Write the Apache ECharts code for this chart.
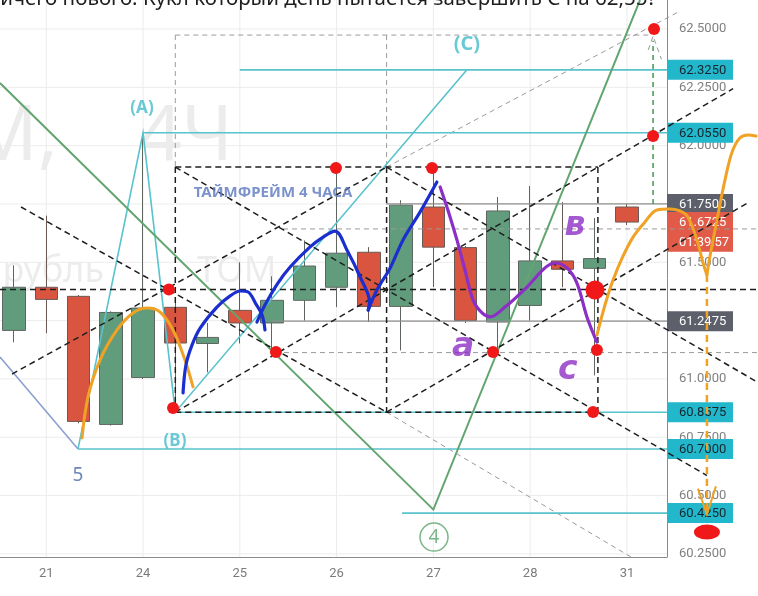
<!DOCTYPE html>
<html><head><meta charset="utf-8">
<script src="https://cdn.jsdelivr.net/npm/echarts@6/dist/echarts.min.js"></script>
<style>html,body{margin:0;padding:0;background:#fff;overflow:hidden}#c{width:758px;height:596px}</style>
</head><body><div id="c"></div>
<script>
// ---------- data ----------
const dayLabels = ['21','24','25','26','27','28','31'];
const dayStart  = [1,4,7,10,13,16,19];
const priceTicks = [60.25,60.5,60.75,61.0,61.25,61.5,61.75,62.0,62.25,62.5];

const candleIdx = [0,1,2,3,4,5,6,7,8,9,10,11,12,13,14,15,16,17,18,19];
const opens  = [61.208,61.393,61.354,60.805,61.006,61.307,61.152,61.294,61.240,61.337,61.393,61.543,61.311,61.737,61.563,61.244,61.315,61.506,61.474,61.737];
const closes = [61.393,61.341,60.818,61.285,61.304,61.154,61.178,61.240,61.337,61.484,61.539,61.311,61.745,61.565,61.251,61.720,61.506,61.470,61.516,61.6725];
const lows   = [61.157,61.196,60.810,60.800,61.000,60.8575,61.028,61.152,61.120,61.250,61.308,61.244,61.122,61.394,61.240,61.114,61.250,61.393,61.015,61.660];
const highs  = [61.487,61.700,61.360,61.290,62.055,61.330,61.240,61.500,61.440,61.594,61.930,61.565,61.766,61.908,61.570,61.780,61.827,61.758,61.690,61.750];

const tagPrices = [62.325,62.055,61.75,61.6725,61.588,61.2475,60.8575,60.70,60.425];
const tagTexts  = ['62.3250','62.0550','61.7500','61.6725','01:39:57','61.2475','60.8575','60.7000','60.4250'];
const tagKinds  = ['cyan','cyan','dark','red','red','dark','cyan','cyan','cyan'];

// box (x = candle index, y = price)
const boxL = 5, boxM = 11.55, boxR = 18.1;
const boxTop = 61.908, boxMid = 61.383, boxBot = 60.8575;

const blackDashed = [
  [[boxL,boxTop],[boxR,boxTop]],
  [[boxL,boxBot],[boxR,boxBot]],
  [[boxL,boxTop],[boxL,boxBot]],
  [[boxM,boxTop],[boxM,boxBot]],
  [[boxR,boxTop],[boxR,boxBot]],
  [[-0.434,boxMid],[23.063,boxMid]],
  [[boxL,boxTop],[21.48,60.586]],
  [[0.217,61.737],[boxM,boxBot]],
  [[-0.062,61.021],[boxM,boxTop]],
  [[boxL,boxBot],[22.29,62.244]],
  [[boxM,boxTop],[23.063,60.985]],
  [[boxM,boxBot],[22.72,61.753]]
];
const greyDashed = [
  [[5,62.474],[19.72,62.474]],
  [[5,62.474],[5,61.908]],
  [[11.55,62.474],[11.55,61.908]],
  [[8.34,61.643],[23.063,61.643]],
  [[8.09,61.113],[23.063,61.113]],
  [[11.55,60.8575],[20.955,60.087]],
  [[11.55,61.908],[20.55,62.57]],
  [[19.66,62.41],[19.81,62.47],[20.07,62.37]]
];
const greySolid = [
  [[11.53,61.75],[20.242,61.75]],
  [[8.0,61.2475],[20.242,61.2475]]
];
const cyanLines = [
  [[1.984,60.70],[4.0,62.055],[5.0,60.8575],[14.04,62.325]],
  [[7.0,62.325],[20.242,62.325]],
  [[4.0,62.055],[20.242,62.055]],
  [[5.0,60.8575],[20.242,60.8575]],
  [[1.984,60.70],[20.242,60.70]],
  [[12.03,60.425],[20.242,60.425]]
];
const slateLines = [[[-0.434,61.094],[1.984,60.70]]];
const greenLines = [[[-0.434,62.2685],[13.0,60.44],[19.405,62.624]]];
const greenDashed = [[[19.81,61.75],[19.81,62.45]]];
const orangeDashed = [[[21.48,61.446],[21.48,60.43]]];
const orangeArrow = [[[21.2,60.53],[21.48,60.42],[21.76,60.54]]];

const orangeLeft = [[2.108,60.747],[2.294,60.923],[2.666,61.081],[3.193,61.210],[3.689,61.283],[4.123,61.304],[4.526,61.287],[4.929,61.210],[5.30,61.081],[5.549,60.966]];
const orangeRightA = [[18.07,61.188],[18.32,61.317],[18.57,61.424],[18.85,61.518],[19.19,61.608],[19.56,61.673],[19.93,61.724],[20.33,61.728],[20.64,61.72],[20.89,61.694],[21.17,61.596],[21.36,61.497],[21.48,61.446]];
const orangeRightB = [[21.48,61.446],[21.57,61.523],[21.79,61.681],[22.04,61.853],[22.26,61.973],[22.5,62.033],[22.75,62.046],[23.0,62.041]];
const blue1 = [[5.24,60.940],[5.33,61.060],[5.52,61.146],[5.77,61.218],[6.29,61.308],[6.70,61.356],[7.01,61.377],[7.25,61.373],[7.50,61.321],[7.69,61.274],[7.78,61.210]];
const blue2 = [[7.53,61.244],[7.78,61.317],[8.18,61.411],[8.56,61.480],[9.18,61.566],[9.58,61.608],[9.95,61.634],[10.32,61.553],[10.73,61.437],[11.02,61.330],[10.98,61.295]];
const blue3 = [[10.98,61.295],[11.25,61.381],[11.66,61.476],[12.06,61.596],[12.59,61.716],[13.11,61.844]];
const purple = [[13.21,61.823],[13.45,61.724],[13.73,61.596],[13.98,61.467],[14.23,61.338],[14.51,61.283],[14.76,61.266],[15.22,61.308],[15.90,61.394],[16.46,61.476],[16.77,61.497],[17.14,61.476],[17.45,61.411],[17.76,61.266],[18.07,61.158]];

const redDots = [[4.8,61.383],[4.93,60.875],[8.12,61.116],[9.98,61.904],[12.96,61.904],[14.85,61.116],[18.07,61.124],[17.95,60.858],[19.84,62.5],[19.81,62.041]];
const bigDots = [[18.01,61.381]];
const ovalDots = [[21.48,60.344]];

const textNotes = [
  {text:'(A)', at:[3.968,62.161], kind:'cyan'},
  {text:'(B)', at:[4.99,60.734], kind:'cyan'},
  {text:'(C)', at:[14.04,62.436], kind:'cyanBig'},
  {text:'5', at:[1.984,60.584], kind:'wave5'},
  {text:'ТАЙМФРЕЙМ 4 ЧАСА', at:[8.03,61.797], kind:'tf'},
  {text:'a', at:[13.92,61.135], kind:'hand'},
  {text:'в', at:[17.39,61.655], kind:'hand'},
  {text:'c', at:[17.17,61.035], kind:'hand'}
];
const circledFour = [{text:'4', at:[13.02,60.322]}];

// ---------- chart ----------
const X_MIN=-0.434, X_MAX_PLOT=20.242, X_MAX_FULL=23.063, Y_MIN=60.2368, Y_MAX=62.6243;
const chart = echarts.init(document.getElementById('c'), null, {renderer:'canvas', width:758, height:596});

const noteStyles = {
  cyan:{color:'#45bccb', fontSize:17, fontWeight:'bold'},
  cyanBig:{color:'#45bccb', fontSize:20, fontWeight:'bold'},
  wave5:{color:'#4a68a6', fontSize:19},
  tf:{color:'#5a78bd', fontSize:15, fontWeight:'bold'},
  hand:{color:'#8e2fc6', fontSize:33, fontWeight:'bold', fontStyle:'italic', fontFamily:'DejaVu Sans'}
};

function lines(name, list, style, z){
  return {type:'lines', name, coordinateSystem:'cartesian2d', xAxisIndex:1, yAxisIndex:2,
    polyline:true, silent:true, z, lineStyle:Object.assign({opacity:1}, style),
    data:list.map(c=>({coords:c}))};
}
function curve(name, pts, color, width, z){
  return {type:'line', name, xAxisIndex:1, yAxisIndex:2, data:pts, smooth:0.35,
    showSymbol:false, symbol:'none', silent:true, clip:false, z,
    lineStyle:{color, width, cap:'round', join:'round'}};
}
function dots(name, pts, size, z){
  return {type:'scatter', name, xAxisIndex:1, yAxisIndex:2, data:pts, symbolSize:size, silent:true, z,
    itemStyle:{color:'#f01818', opacity:1}};
}

const gridVert = dayStart.map(d=>({coords:[[d,Y_MIN],[d,Y_MAX]]}));
const gridHorz = priceTicks.map(p=>({coords:[[X_MIN,p],[X_MAX_PLOT,p]]}));
const wm = 'rgba(110,110,110,0.13)';

const option = {
  animation:false,
  backgroundColor:'#ffffff',
  textStyle:{fontFamily:'Roboto'},
  graphic:[
    {type:'text', z:0, silent:true, style:{text:'USDRUB_TOM,', x:58, y:176, align:'right', verticalAlign:'bottom', fill:wm, font:'76px "Noto Sans"'}},
    {type:'text', z:0, silent:true, style:{text:'4Ч', x:233, y:176, align:'right', verticalAlign:'bottom', fill:wm, font:'76px "Noto Sans"'}},
    {type:'text', z:0, silent:true, style:{text:'Доллар США/Российский рубль', x:104, y:272, align:'right', verticalAlign:'middle', fill:wm, font:'36px "Noto Sans"'}},
    {type:'text', z:0, silent:true, style:{text:'ТОМ', x:197, y:272, align:'left', verticalAlign:'middle', fill:wm, font:'36px "Noto Sans"'}},
    {type:'text', z:100, silent:true, style:{text:'Ничего нового. Кукл который день пытается завершить С на 62,55?', x:-15, y:10, verticalAlign:'bottom', fill:'#1e1e1e', font:'20.5px "Noto Sans"'}}
  ],
  grid:[
    {left:0, right:91, top:0, bottom:39},
    {left:0, right:0, top:0, bottom:39}
  ],
  xAxis:[
    {gridIndex:0, type:'value', min:X_MIN, max:X_MAX_PLOT,
      axisLine:{show:true, onZero:false, lineStyle:{color:'#8a8a8a'}}, axisTick:{show:false}, splitLine:{show:false},
      axisLabel:{customValues:dayStart, color:'#7b7b7b', fontSize:13, margin:10,
        formatter:v=>{const k=dayStart.indexOf(Math.round(v)); return k<0?'':dayLabels[k];}}},
    {gridIndex:1, type:'value', min:X_MIN, max:X_MAX_FULL, show:false}
  ],
  yAxis:[
    {gridIndex:0, type:'value', position:'right', min:Y_MIN, max:Y_MAX,
      axisLine:{show:true, onZero:false, lineStyle:{color:'#8a8a8a'}}, axisTick:{show:false}, splitLine:{show:false},
      axisLabel:{customValues:priceTicks, color:'#808080', fontSize:13, margin:12, formatter:v=>v.toFixed(4)}},
    {gridIndex:0, type:'value', position:'right', min:Y_MIN, max:Y_MAX,
      axisLine:{show:false, onZero:false}, axisTick:{show:false}, splitLine:{show:false},
      axisLabel:{customValues:tagPrices, margin:0,
        formatter:v=>{const k=tagPrices.findIndex(p=>Math.abs(p-v)<1e-6); return k<0?'':'{'+tagKinds[k]+'|'+tagTexts[k]+'}';},
        rich:{
          cyan:{backgroundColor:'#22b7ca', color:'#17262f', fontSize:13, padding:[4,7,3,12], width:47, lineHeight:13},
          dark:{backgroundColor:'#5d606b', color:'#ffffff', fontSize:13, padding:[4,7,3,12], width:47, lineHeight:13},
          red:{backgroundColor:'#e15b48', color:'#ffffff', fontSize:13, padding:[4,7,3,12], width:47, lineHeight:13}
        }}},
    {gridIndex:1, type:'value', min:Y_MIN, max:Y_MAX, show:false}
  ],
  series:[
    {type:'lines', name:'grid', coordinateSystem:'cartesian2d', xAxisIndex:0, yAxisIndex:0, polyline:true, silent:true, z:1,
      lineStyle:{color:'#ececec', width:1, opacity:1}, data:gridVert.concat(gridHorz)},
    {type:'candlestick', name:'USDRUB_TOM', xAxisIndex:0, yAxisIndex:0, z:3, barWidth:23, silent:true,
      data:candleIdx.map((x,k)=>[x,opens[k],closes[k],lows[k],highs[k]]),
      itemStyle:{color:'#619d7d', color0:'#d9553f', borderColor:'#5f6660', borderColor0:'#6a5a56', borderWidth:1}},
    lines('greySolid', greySolid, {color:'#8e8e8e', width:1.2}, 4),
    lines('greyDashed', greyDashed, {color:'#9a9a9a', width:1, type:[5,4]}, 4),
    lines('cyan', cyanLines, {color:'#58c2cd', width:1.6}, 5),
    lines('slate', slateLines, {color:'#8c9fcf', width:1.6}, 5),
    lines('green', greenLines, {color:'#62a56f', width:2}, 5),
    lines('greenDashed', greenDashed, {color:'#3d9a4a', width:1.5, type:[5,4]}, 5),
    lines('black', blackDashed, {color:'#1e1e1e', width:1.5, type:[6,4]}, 6),
    lines('orangeDashed', orangeDashed, {color:'#f0a224', width:2.5, type:[7,5]}, 7),
    lines('orangeArrow', orangeArrow, {color:'#f0a224', width:2}, 7),
    curve('orangeL', orangeLeft, '#f0a224', 3, 8),
    curve('orangeRA', orangeRightA, '#f0a224', 3, 8),
    curve('orangeRB', orangeRightB, '#f0a224', 3, 8),
    curve('blue1', blue1, '#1b2fcf', 3.2, 8),
    curve('blue2', blue2, '#1b2fcf', 3.2, 8),
    curve('blue3', blue3, '#1b2fcf', 3.2, 8),
    curve('purple', purple, '#8b2fc6', 3.2, 8),
    dots('redDots', redDots, 12, 9),
    dots('bigDots', bigDots, 19, 9),
    dots('oval', ovalDots, [26,15], 9),
    {type:'scatter', name:'four', xAxisIndex:1, yAxisIndex:2, silent:true, z:9, symbolSize:28,
      data:circledFour.map(n=>({value:n.at, name:n.text})),
      itemStyle:{color:'rgba(255,255,255,0)', borderColor:'#5aa46a', borderWidth:1.5},
      label:{show:true, position:'inside', formatter:p=>p.name, color:'#5aa46a', fontSize:19, fontFamily:'Noto Sans'}},
    {type:'scatter', name:'notes', xAxisIndex:1, yAxisIndex:2, silent:true, z:10, symbolSize:1,
      itemStyle:{color:'rgba(0,0,0,0)'},
      data:textNotes.map(n=>({value:n.at, name:n.text,
        label:Object.assign({show:true, position:'inside', formatter:n.text, fontFamily:'Noto Sans'}, noteStyles[n.kind])}))}
  ]
};
chart.setOption(option);
</script></body></html>
